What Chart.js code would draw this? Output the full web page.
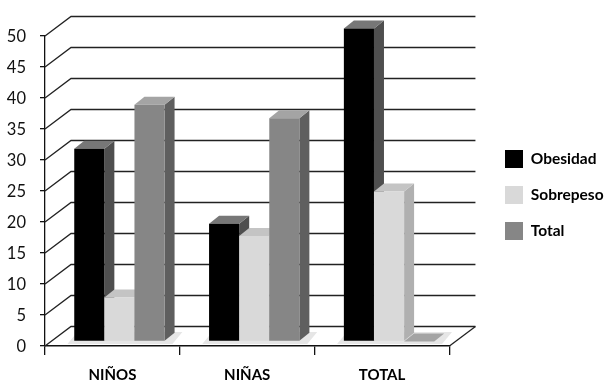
<!DOCTYPE html>
<html>
<head>
<meta charset="utf-8">
<style>html,body{margin:0;padding:0;background:#fff}canvas{display:block}</style>
<script src="https://cdn.jsdelivr.net/npm/chart.js@4"></script>
</head>
<body>
<canvas id="c" width="606" height="380"></canvas>
<script>
const categories = ['NIÑOS', 'NIÑAS', 'TOTAL'];
const obesidad = [31.1, 19, 50.5];
const sobrepeso = [7.1, 17, 24.2];
const total = [38.2, 36, 0];
const yTicks = [0, 5, 10, 15, 20, 25, 30, 35, 40, 45, 50];

const FONT = 'Lato, "Open Sans", sans-serif';
const faces = [
  { side: '#4f4f4f', top: '#777777' },
  { side: '#b0b0b0', top: '#c4c4c4' },
  { side: '#5f5f5f', top: '#a4a4a4' }
];
const wall = { dx: 26, dy: -19.5 };
const barShift = { x: 7, y: -4.5 };
const depth = { x: 10, y: -8 };

function poly(ctx, pts, fill) {
  ctx.beginPath();
  pts.forEach((p, i) => i ? ctx.lineTo(p[0], p[1]) : ctx.moveTo(p[0], p[1]));
  ctx.closePath();
  ctx.fillStyle = fill;
  ctx.fill();
}

const threeD = {
  id: 'threeD',
  afterLayout(chart) {
    const l = chart.legend;
    l.left = 487;
    l.right = 606;
    l.width = 119;
    l.top = 132;
    l.bottom = 262;
    l.height = 130;
  },
  beforeDatasetsDraw(chart) {
    const { ctx, scales: { x, y }, chartArea: a } = chart;
    ctx.save();
    ctx.strokeStyle = '#222';
    ctx.lineWidth = 1.3;
    yTicks.forEach(v => {
      const py = y.getPixelForValue(v);
      ctx.beginPath();
      ctx.moveTo(a.left, py);
      ctx.lineTo(a.left + wall.dx, py + wall.dy);
      ctx.lineTo(a.right + wall.dx, py + wall.dy);
      ctx.stroke();
    });
    const y0 = y.getPixelForValue(0);
    ctx.beginPath();
    ctx.moveTo(a.right, y0);
    ctx.lineTo(a.right + wall.dx, y0 + wall.dy);
    ctx.stroke();
    categories.forEach((c, i) => {
      const cx = x.getPixelForValue(i);
      poly(ctx, [[cx - 45, y0 - 2], [cx + 60, y0 - 2], [cx + 70, y0 - 14], [cx - 35, y0 - 14]], '#e6e6e6');
    });
    ctx.restore();

    // Left-to-right painting order: each series covers the side of the one before it.
    ctx.save();
    ctx.translate(barShift.x, barShift.y);
    chart.data.datasets.forEach((d, i) => {
      const meta = chart.getDatasetMeta(i);
      const f = faces[i];
      meta.data.forEach(b => {
        const l = b.x - b.width / 2, r = b.x + b.width / 2;
        poly(ctx, [[r, b.y], [r + depth.x, b.y + depth.y], [r + depth.x, b.base + depth.y], [r, b.base]], f.side);
        poly(ctx, [[l, b.y], [r, b.y], [r + depth.x, b.y + depth.y], [l + depth.x, b.y + depth.y]], f.top);
      });
      meta.controller.draw();
    });
    ctx.restore();
    return false;
  }
};

const chart = new Chart(document.getElementById('c'), {
  type: 'bar',
  data: {
    labels: categories,
    datasets: [
      { label: 'Obesidad', data: obesidad, backgroundColor: '#000000' },
      { label: 'Sobrepeso', data: sobrepeso, backgroundColor: '#d9d9d9' },
      { label: 'Total', data: total, backgroundColor: '#868686' }
    ]
  },
  plugins: [threeD],
  options: {
    responsive: false,
    animation: false,
    layout: { padding: { top: 36, right: 30, left: 0, bottom: 0 } },
    datasets: { bar: { categoryPercentage: 0.67, barPercentage: 1 } },
    scales: {
      x: {
        afterFit: s => { s.height = 34; },
        grid: { drawOnChartArea: false, drawTicks: true, tickLength: 9, offset: true, color: '#111', lineWidth: 1.3 },
        border: { color: '#111', width: 1.6 },
        ticks: { color: '#000', padding: 11, maxRotation: 0, font: { family: FONT, size: 15, weight: 'bold' } }
      },
      y: {
        min: 0,
        max: 50,
        afterFit: s => { s.width = 45; },
        afterBuildTicks: s => { s.ticks = yTicks.map(v => ({ value: v })); },
        grid: { drawOnChartArea: false, drawTicks: true, tickLength: 5, color: '#111', lineWidth: 1.3 },
        border: { color: '#111', width: 1.3 },
        ticks: { color: '#111', padding: 14, labelOffset: 1, font: { family: FONT, size: 16.5 } }
      }
    },
    plugins: {
      tooltip: { enabled: false },
      legend: {
        position: 'right',
        align: 'start',
        labels: {
          boxWidth: 18,
          boxHeight: 18,
          padding: 18,
          color: '#000',
          font: { family: FONT, size: 15.5, weight: 'bold' }
        }
      }
    }
  }
});
</script>
</body>
</html>
